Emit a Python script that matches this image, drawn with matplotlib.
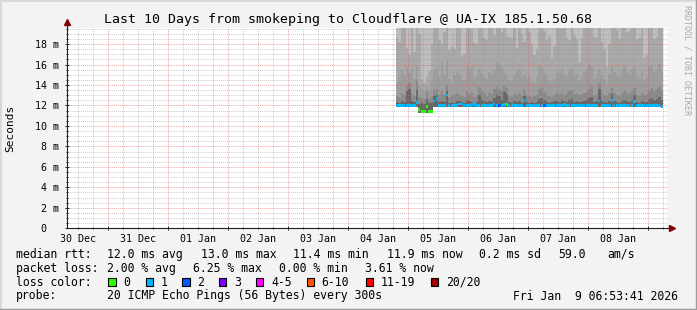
import matplotlib
matplotlib.use('Agg')
import matplotlib.pyplot as plt
import matplotlib.dates as mdates
from matplotlib.ticker import MultipleLocator, FuncFormatter
from matplotlib.patches import Rectangle
from matplotlib.lines import Line2D
from datetime import datetime, timedelta
import numpy as np

# hourly data, first bin starts Jan 4 19:00
first_bin = datetime(2026, 1, 4, 19, 0)

median = [
    12.0, 12.0, 12.0, 12.0, 12.0, 12.0, 12.0, 12.0, 12.3, 11.6,
    11.4, 11.4, 11.9, 11.4, 11.4, 12.45, 12.7, 12.0, 12.0, 12.0,
    13.0, 12.0, 12.0, 12.0, 12.0, 12.15, 12.15, 12.0, 12.0, 12.0,
    12.1, 12.1, 12.0, 12.0, 12.0, 12.0, 12.0, 12.0, 12.0, 12.15,
    12.0, 12.0, 12.0, 12.1, 12.1, 12.0, 12.0, 12.0, 12.0, 12.0,
    12.0, 12.5, 12.0, 12.0, 12.0, 12.0, 12.0, 12.0, 12.0, 12.0,
    12.0, 12.0, 12.0, 12.0, 12.0, 12.0, 12.0, 12.1, 12.0, 12.0,
    12.0, 12.0, 12.0, 12.0, 12.0, 12.0, 12.0, 12.0, 12.0, 12.0,
    12.0, 12.45, 12.0, 12.0, 12.0, 12.0, 12.5, 12.0, 12.0, 12.0,
    12.0, 12.0, 12.0, 12.0, 12.0, 12.4, 12.0, 12.0, 12.0, 12.0,
    12.0, 12.0, 12.0, 12.0, 12.0, 12.0, 11.9,
]

# lost pings (of 20) per bin, as shown by the line colour
loss = [
    1, 1, 1, 1, 1, 1, 1, 1, 1, 0,
    0, 0, 0, 0, 0, 1, 1, 1, 1, 1,
    1, 1, 1, 1, 1, 1, 1, 1, 1, 1,
    1, 1, 1, 1, 1, 1, 1, 1, 1, 1,
    1, 2, 1, 1, 0, 1, 1, 1, 1, 1,
    1, 1, 1, 1, 1, 1, 1, 1, 1, 2,
    1, 1, 1, 1, 1, 1, 1, 1, 1, 1,
    1, 1, 1, 1, 1, 1, 1, 1, 1, 1,
    1, 1, 1, 1, 1, 1, 1, 1, 1, 1,
    1, 1, 1, 1, 1, 1, 1, 1, 1, 1,
    1, 1, 1, 1, 1, 1, 1,
]

# smoke: lowest ping, then tops of the shade bands (dark -> light)
ping_floor = [
    11.85, 11.85, 11.85, 11.85, 11.85, 11.85, 11.85, 11.85, 11.85, 11.3,
    11.3, 11.3, 11.3, 11.3, 11.3, 11.85, 11.85, 11.85, 11.85, 11.85,
    11.85, 11.85, 11.85, 11.85, 11.85, 11.85, 11.85, 11.85, 11.85, 11.85,
    11.85, 11.85, 11.85, 11.85, 11.85, 11.85, 11.85, 11.85, 11.85, 11.85,
    11.85, 11.85, 11.85, 11.85, 11.85, 11.85, 11.85, 11.85, 11.85, 11.85,
    11.85, 11.85, 11.85, 11.85, 11.85, 11.85, 11.85, 11.85, 11.85, 11.85,
    11.85, 11.85, 11.85, 11.85, 11.85, 11.85, 11.85, 11.85, 11.85, 11.85,
    11.85, 11.85, 11.85, 11.85, 11.85, 11.85, 11.85, 11.85, 11.85, 11.85,
    11.85, 11.85, 11.85, 11.85, 11.85, 11.85, 11.85, 11.85, 11.85, 11.85,
    11.85, 11.85, 11.85, 11.85, 11.85, 11.85, 11.85, 11.85, 11.85, 11.85,
    11.85, 11.85, 11.85, 11.85, 11.85, 11.85, 11.85,
]
ping_core = [
    12.3, 12.2, 12.4, 12.3, 13.4, 13.6, 12.4, 12.3, 13.5, 12.1,
    12.2, 12.1, 12.6, 12.2, 12.2, 12.9, 13.0, 12.3, 12.4, 12.3,
    13.4, 12.2, 12.3, 12.2, 12.4, 12.4, 12.3, 12.2, 12.5, 12.4,
    12.3, 12.2, 12.3, 13.0, 12.5, 12.4, 12.3, 12.4, 12.3, 12.7,
    13.0, 12.9, 12.5, 13.3, 13.1, 12.3, 12.2, 12.4, 12.3, 12.4,
    12.2, 12.9, 12.3, 12.2, 12.3, 12.2, 12.3, 12.6, 12.7, 12.5,
    12.3, 12.2, 12.3, 12.4, 12.4, 12.3, 12.5, 12.4, 12.3, 12.5,
    12.6, 12.3, 12.4, 12.3, 12.3, 12.4, 12.5, 12.7, 12.8, 12.3,
    12.4, 13.6, 12.4, 12.3, 12.2, 12.4, 13.1, 12.4, 12.3, 12.2,
    12.4, 12.5, 12.4, 12.3, 12.5, 13.0, 12.3, 12.2, 12.4, 12.3,
    12.3, 12.6, 12.7, 12.5, 12.6, 12.8, 12.5,
]
ping_lo = [
    12.9, 12.8, 13.2, 13.0, 14.0, 14.2, 13.1, 12.9, 14.4, 12.8,
    12.7, 12.6, 13.3, 12.7, 12.9, 13.5, 13.6, 13.0, 13.4, 13.0,
    14.0, 12.8, 12.9, 13.1, 13.2, 13.0, 12.9, 12.8, 13.4, 13.1,
    13.2, 12.8, 13.0, 13.8, 13.4, 13.2, 12.9, 13.2, 13.1, 13.6,
    13.8, 13.6, 13.4, 13.9, 13.7, 12.9, 12.8, 13.1, 13.0, 13.2,
    12.9, 13.5, 13.0, 12.9, 12.8, 12.9, 13.0, 13.6, 13.8, 13.3,
    13.0, 12.9, 12.8, 13.0, 13.3, 13.1, 13.2, 13.0, 13.2, 13.4,
    13.5, 13.1, 13.2, 13.0, 13.1, 13.2, 13.3, 13.6, 13.9, 13.0,
    13.1, 14.2, 13.2, 13.0, 12.9, 13.2, 13.7, 13.2, 13.0, 12.9,
    13.2, 13.4, 13.2, 13.1, 13.4, 13.7, 13.0, 12.9, 13.2, 13.0,
    13.1, 13.5, 13.7, 13.4, 13.6, 13.8, 13.4,
]
ping_mid = [
    14.2, 14.8, 15.5, 15.0, 15.8, 15.2, 15.6, 14.6, 16.0, 14.0,
    13.6, 13.4, 13.9, 13.5, 14.4, 15.5, 15.8, 14.8, 16.2, 15.0,
    16.4, 14.6, 14.2, 15.0, 15.4, 15.1, 14.5, 14.4, 15.8, 15.6,
    15.9, 14.7, 14.9, 15.6, 15.2, 14.8, 14.6, 15.3, 15.0, 15.5,
    16.2, 16.0, 15.8, 15.2, 14.9, 14.5, 14.3, 15.0, 15.4, 15.6,
    14.8, 15.0, 14.6, 14.8, 14.3, 14.2, 14.7, 16.0, 15.8, 15.2,
    14.9, 14.5, 14.2, 14.6, 15.5, 15.2, 15.7, 15.0, 14.8, 15.4,
    15.6, 14.9, 15.1, 14.4, 14.8, 15.3, 15.6, 16.0, 15.8, 14.6,
    14.8, 15.6, 15.0, 14.6, 14.1, 15.1, 15.8, 15.3, 14.9, 14.8,
    15.5, 15.9, 15.4, 15.1, 15.6, 15.8, 14.8, 14.6, 15.4, 14.4,
    14.7, 15.8, 16.0, 15.3, 15.6, 16.1, 15.5,
]
ping_hi = [
    18.6, 18.2, 20.5, 20.5, 17.6, 16.9, 20.5, 17.2, 20.5, 19.0,
    14.6, 14.2, 14.8, 15.4, 18.0, 20.5, 20.5, 18.4, 18.0, 19.2,
    20.5, 17.4, 17.8, 17.5, 20.5, 20.5, 16.8, 17.0, 20.5, 20.5,
    19.4, 18.1, 18.0, 20.5, 20.5, 18.6, 18.4, 20.5, 20.5, 18.9,
    20.5, 20.5, 19.2, 20.5, 18.8, 18.7, 18.6, 20.5, 17.6, 20.5,
    19.0, 18.2, 20.5, 19.2, 18.0, 16.9, 17.5, 20.5, 20.5, 19.3,
    18.4, 18.8, 16.6, 17.8, 20.5, 20.5, 19.5, 20.5, 18.6, 18.4,
    20.5, 18.8, 18.5, 16.2, 18.6, 20.5, 20.5, 20.5, 19.6, 18.7,
    18.6, 20.5, 18.2, 17.4, 15.8, 18.0, 20.5, 20.5, 19.4, 18.5,
    20.5, 20.5, 19.2, 19.3, 20.5, 20.5, 18.4, 18.6, 20.5, 16.6,
    16.9, 20.5, 20.5, 18.5, 18.7, 20.5, 19.6,
]

y_ticks_major = [0, 2, 4, 6, 8, 10, 12, 14, 16, 18]
loss_levels = ['0', '1', '2', '3', '4-5', '6-10', '11-19', '20/20']
loss_colors = ['#26ff00', '#00b8ff', '#0059ff', '#7e00ff', '#ff00ff', '#ff5500', '#ff0000', '#a10000']

title = 'Last 10 Days from smokeping to Cloudflare @ UA-IX 185.1.50.68'
rtt_stats = ['12.0 ms avg', '13.0 ms max', '11.4 ms min', '11.9 ms now', '0.2 ms sd']
am_s = '59.0'
loss_stats = ['2.00 % avg', '6.25 % max', '0.00 % min', '3.61 % now']
probe_text = '20 ICMP Echo Pings (56 Bytes) every 300s'
stamp = 'Fri Jan  9 06:53:41 2026'

W, H = 697, 310
MONO = 'DejaVu Sans Mono'
Y_TOP = 19.6
x_start = datetime(2025, 12, 30, 7, 36)
x_end = x_start + timedelta(days=10)


def fx(px):
    return px / W


def fy(py):
    return 1 - py / H


fig = plt.figure(figsize=(W / 100, H / 100), dpi=100, facecolor='#f3f3f3')
ax = fig.add_axes([fx(67), fy(228.3), 600 / W, 200.6 / H])
ax.set_facecolor('white')

n = len(median)
edges = mdates.date2num([first_bin + timedelta(hours=i) for i in range(n + 1)])
floor = np.array(ping_floor)

# smoke, light to dark
ax.fill_between(edges, np.append(floor, floor[-1]), Y_TOP, step='post',
                color='#bebebe', lw=0, zorder=1)
for vals, col in [(ping_hi, '#a9a9a9'), (ping_mid, '#9d9d9d'),
                  (ping_lo, '#8a8a8a'), (ping_core, '#676767')]:
    ax.stairs(vals, edges, baseline=floor, fill=True, color=col, lw=0, zorder=1)

# median coloured by loss
med = np.array(median)
ax.bar(edges[:-1], 0.24, bottom=med - 0.12, width=np.diff(edges), align='edge',
       color=[loss_colors[l] for l in loss], lw=0, antialiased=False, zorder=4)

ax.set_xlim(mdates.date2num(x_start), mdates.date2num(x_end))
ax.set_ylim(0, Y_TOP)

# grid
ax.xaxis.set_major_locator(mdates.DayLocator())
ax.xaxis.set_minor_locator(mdates.HourLocator(byhour=[0, 6, 12, 18]))
ax.xaxis.set_major_formatter(FuncFormatter(lambda v, p: ''))
ax.xaxis.set_minor_formatter(FuncFormatter(
    lambda v, p: mdates.num2date(v).strftime('%d %b') if mdates.num2date(v).hour == 12 else ''))
ax.set_yticks(y_ticks_major)
ax.yaxis.set_minor_locator(MultipleLocator(0.5))
ax.yaxis.set_major_formatter(FuncFormatter(lambda v, p: '0  ' if v == 0 else '%d m' % v))

ax.grid(which='minor', color='#8f8f8f', alpha=0.45, lw=0.7, ls=(0, (1, 1)), zorder=3)
ax.grid(which='major', color='#de5050', alpha=0.5, lw=0.7, ls=(0, (1, 1)), zorder=3)
ax.set_axisbelow(False)

ax.tick_params(which='both', direction='inout', color='#202020', width=0.7,
               labelsize=7.2, labelfontfamily=MONO)
ax.tick_params(which='major', length=3)
ax.tick_params(which='minor', length=2)
ax.tick_params(axis='y', pad=4)
ax.tick_params(axis='x', which='both', pad=3)

for s in ax.spines.values():
    s.set_visible(False)
ax.plot([0, 0], [0, 1.028], transform=ax.transAxes, color='#202020', lw=0.8,
        clip_on=False, zorder=6)
ax.plot([0, 1.008], [0, 0], transform=ax.transAxes, color='#202020', lw=0.8,
        clip_on=False, zorder=6)
ax.plot([0], [1.028], marker='^', ms=4.5, color='#800000', transform=ax.transAxes,
        clip_on=False, zorder=7)
ax.plot([1.008], [0], marker='>', ms=4.5, color='#800000', transform=ax.transAxes,
        clip_on=False, zorder=7)

# titles
fig.text(fx(348), fy(19), title, ha='center', va='center', family=MONO, fontsize=9.5)
fig.text(fx(10), fy(128), 'Seconds', rotation=90, ha='center', va='center',
         family=MONO, fontsize=8)
fig.text(fx(687), fy(60), 'RRDTOOL / TOBI OETIKER', rotation=-90, ha='center',
         va='center', family=MONO, fontsize=6, color='#a8a8a8')

# legend
LF = 8.3
rows_y = [254.3, 268.3, 282, 296]


def ltxt(x, y, s):
    fig.text(fx(x), fy(y), s, ha='left', va='center', family=MONO, fontsize=LF)


ltxt(16, rows_y[0], 'median rtt:')
for s, x in zip(rtt_stats, [107, 201, 293.3, 386.7, 479.3]):
    ltxt(x, rows_y[0], s)
ltxt(558.3, rows_y[0], am_s)
ltxt(607.3, rows_y[0], 'am/s')

ltxt(16, rows_y[1], 'packet loss:')
for s, x in zip(loss_stats, [107.3, 193.3, 279, 365]):
    ltxt(x, rows_y[1], s)

ltxt(16, rows_y[2], 'loss color:')
box_x = [108.3, 145.7, 182.3, 219, 256, 306.7, 365.7, 430.7]
for lab, col, bx in zip(loss_levels, loss_colors, box_x):
    fig.add_artist(Rectangle((fx(bx), fy(285.7)), 7.4 / W, 7.4 / H,
                             transform=fig.transFigure, facecolor=col,
                             edgecolor='black', lw=0.8))
    ltxt(bx + 15, rows_y[2], lab)

ltxt(16, rows_y[3], 'probe:')
ltxt(107, rows_y[3], probe_text)
ltxt(513.3, rows_y[3], stamp)

# 3d frame
fig.add_artist(Line2D([0, 1], [1, 1], transform=fig.transFigure, color='#d8d8d8', lw=2))
fig.add_artist(Line2D([0, 0], [0, 1], transform=fig.transFigure, color='#d8d8d8', lw=2))
fig.add_artist(Line2D([0, 1], [0, 0], transform=fig.transFigure, color='#9e9e9e', lw=2.5))
fig.add_artist(Line2D([1, 1], [0, 1], transform=fig.transFigure, color='#9e9e9e', lw=2.5))

fig.savefig('out.png', dpi=100, facecolor=fig.get_facecolor())
